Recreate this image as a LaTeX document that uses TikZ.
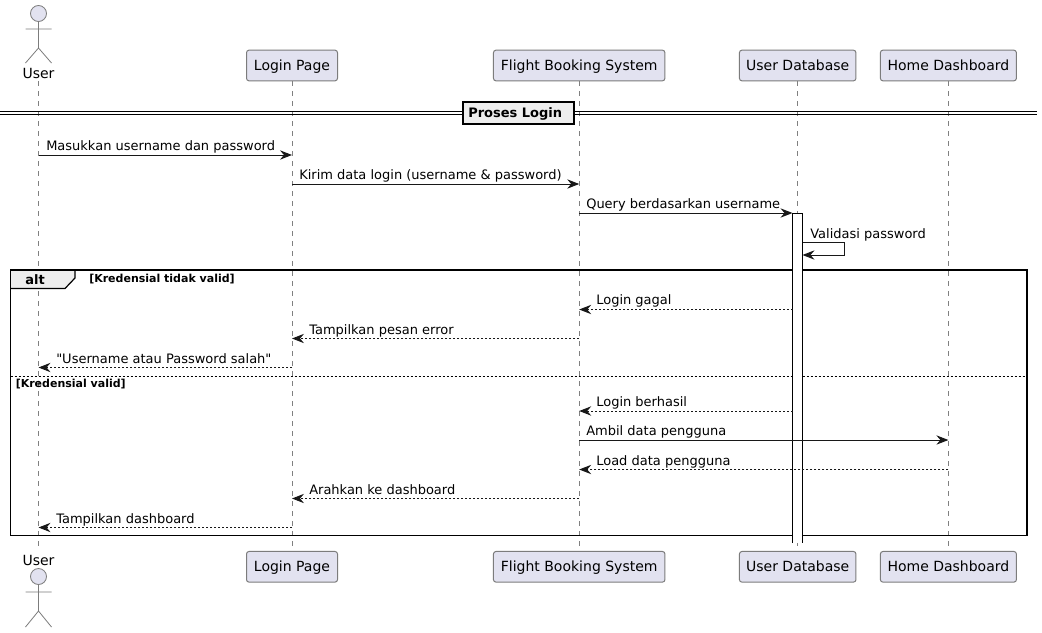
\documentclass[tikz,border=0pt]{standalone}
\usepackage{fontspec}
\setmainfont{DejaVu Sans}
\newfontfamily\plainfont{DejaVu Sans}
\usetikzlibrary{arrows.meta}
\definecolor{partfill}{HTML}{E2E2F0}
\definecolor{partline}{HTML}{7C7C7C}
\definecolor{lifeline}{HTML}{808080}
\definecolor{tabfill}{HTML}{EEEEEE}
\definecolor{ink}{HTML}{181818}
\tikzset{
  x=0.75pt, y=-0.75pt,
  part/.style={draw=partline, fill=partfill, line width=0.75pt, rounded corners=1.9pt, inner sep=0pt, minimum height=23pt, text height=8.6pt, text depth=1.6pt, text=black, font=\fontsize{10.5pt}{12pt}\selectfont},
  lifel/.style={draw=lifeline, line width=0.55pt, dash pattern=on 3.75pt off 3.75pt},
  actorline/.style={draw=partline, line width=0.6pt},
  actorhead/.style={circle, draw=partline, fill=partfill, line width=0.6pt, minimum size=12pt, inner sep=0pt},
  actorname/.style={inner sep=0pt, anchor=base, text=black, font=\fontsize{10.5pt}{12pt}\selectfont},
  msgline/.style={draw=ink, line width=0.75pt, -{Stealth[length=9pt,width=7pt,inset=3pt]}},
  reply/.style={msgline, dash pattern=on 1.5pt off 1.5pt},
  msglabel/.style={inner sep=0pt, anchor=base west, text=black, font=\fontsize{9.75pt}{12pt}\selectfont},
  framebox/.style={draw=black, line width=1.4pt},
  guard/.style={inner sep=0pt, anchor=base west, text=black, font=\fontsize{8.25pt}{10pt}\selectfont\bfseries},
}
\newcommand{\msg}[7]{%
  \draw[#4] (#1 |- 0,#3) -- (#2 |- 0,#3);
  \node[msglabel] (#7) at (#5,#3-4.5) {#6};}
\begin{document}
\begin{tikzpicture}
\useasboundingbox (0,0) rectangle (1042,632);
\fill[white] (0,0) rectangle (1042,632);

% participants, top
\node[actorhead] (userT) at (38.5,13.5) {};
\node[actorname] (userTname) at (38.5,78) {User};
\node[part, minimum width=68.25pt] (loginT) at (292,65.5) {Login Page};
\node[part, minimum width=128.6pt] (fbsT) at (579.2,65.5) {Flight Booking System};
\node[part, minimum width=87.4pt] (udbT) at (797.7,65.5) {User Database};
\node[part, minimum width=102pt] (homeT) at (948.4,65.5) {Home Dashboard};
% participants, bottom
\node[actorhead] (userB) at (38.5,576.5) {};
\node[actorname] (userBname) at (38.5,565) {User};
\node[part, minimum width=68.25pt] (loginB) at (292,566.8) {Login Page};
\node[part, minimum width=128.6pt] (fbsB) at (579.2,566.8) {Flight Booking System};
\node[part, minimum width=87.4pt] (udbB) at (797.7,566.8) {User Database};
\node[part, minimum width=102pt] (homeB) at (948.4,566.8) {Home Dashboard};

% stick figures
\draw[actorline] (userT.south) -- (38.5,48) (25.5,29) -- (51.5,29) (25.5,63) -- (38.5,48) -- (51.5,63);
\draw[actorline] (userB.south) -- (38.5,611) (25.5,592) -- (51.5,592) (25.5,627) -- (38.5,611) -- (51.5,627);

% lifelines
\draw[lifel] (userT |- 0,81) -- (userB |- 0,551);
\draw[lifel] (loginT.south) -- (loginB.north);
\draw[lifel] (fbsT.south) -- (fbsB.north);
\draw[lifel] (udbT.south) -- (udbB.north);
\draw[lifel] (homeT.south) -- (homeB.north);

% divider
\draw[draw=black, line width=0.8pt] (0,111.5) -- (1037,111.5) (0,114.5) -- (1037,114.5);
\node[draw=black, fill=tabfill, line width=1.5pt, minimum width=83.5pt, minimum height=17pt, inner sep=0pt] (divider) at (518.7,113) {};
\node[inner sep=0pt, anchor=base west, font=\fontsize{9.75pt}{12pt}\selectfont\bfseries] (dividertext) at (468,117.5) {Proses Login};

% alt frame
\fill[tabfill] (10.5,270) -- (75,270) -- (75,278) -- (65,288.5) -- (10.5,288.5) -- cycle;
\draw[framebox] (10.5,270) rectangle (1027,535.5);
\draw[draw=black, line width=0.9pt] (75,270) -- (75,278) -- (65,288.5) -- (10.5,288.5);
\node[inner sep=0pt, anchor=base, font=\fontsize{9.75pt}{12pt}\selectfont\bfseries] (alttext) at (35,284) {alt};
\node[guard] (guardA) at (89,282.5) {[Kredensial tidak valid]};
\draw[draw=black, line width=0.6pt, dash pattern=on 1.5pt off 1.5pt] (10.5,376.5) -- (1027,376.5);
\node[guard] (guardB) at (15.5,387) {[Kredensial valid]};

% activation bar
\fill[white] (792.5,213) rectangle (802.5,543);
\draw[draw=black, line width=0.75pt] (792.5,543) -- (792.5,213) -- (802.5,213) -- (802.5,543);

% messages
\msg{userT}{loginT}{155}{msgline}{46}{Masukkan username dan password}{m1}
\msg{loginT}{fbsT}{184}{msgline}{299}{Kirim data login (username \& password)}{m2}
\draw[msgline] (fbsT |- 0,213) -- (792.5,213);
\node[msglabel] (m3) at (586,208.7) {Query berdasarkan username};
\draw[msgline] (802.5,242) -- (844.5,242) -- (844.5,255) -- (802.5,255);
\node[msglabel] (m4) at (810,238) {Validasi password};
\draw[reply] (792.5,309.5) -- (fbsT |- 0,309.5);
\node[msglabel] (m5) at (596,304.5) {Login gagal};
\msg{fbsT}{loginT}{338.5}{reply}{309}{Tampilkan pesan error}{m6}
\msg{loginT}{userT}{367.5}{reply}{56}{{\plainfont"Username atau Password salah"}}{m7}
\draw[reply] (792.5,411) -- (fbsT |- 0,411);
\node[msglabel] (m8) at (596,406) {Login berhasil};
\msg{fbsT}{homeT}{440}{msgline}{586}{Ambil data pengguna}{m9}
\msg{homeT}{fbsT}{469.5}{reply}{596}{Load data pengguna}{m10}
\msg{fbsT}{loginT}{498.5}{reply}{309}{Arahkan ke dashboard}{m11}
\msg{loginT}{userT}{527.5}{reply}{56}{Tampilkan dashboard}{m12}
\end{tikzpicture}
\end{document}
